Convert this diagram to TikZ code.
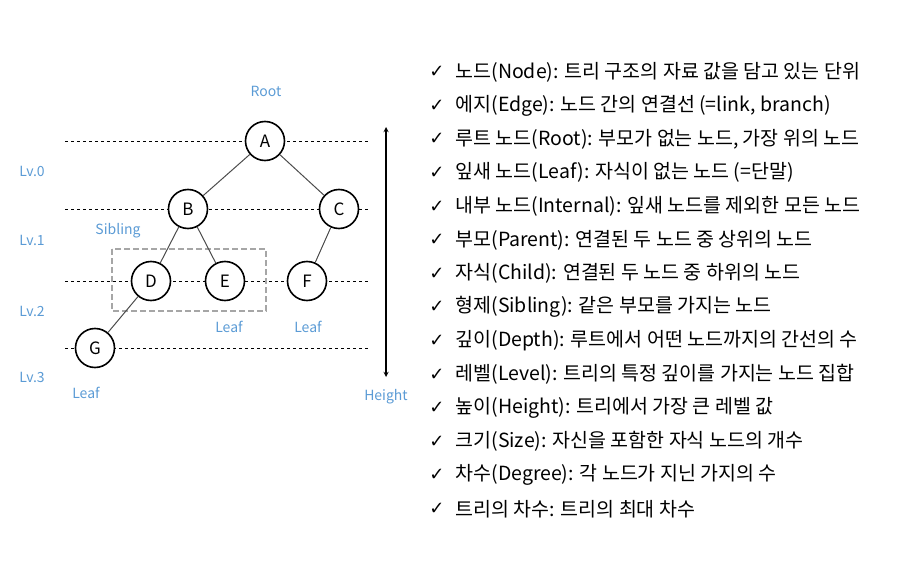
\documentclass[tikz,border=0pt]{standalone}
\usepackage{fontspec}
\setmainfont{Noto Sans CJK KR}
\newfontfamily\chk{DejaVu Sans}
\definecolor{lbl}{HTML}{5B9BD5}
\begin{document}
\begin{tikzpicture}[x=1pt,y=-1pt,
  tn/.style={circle,draw,line width=1.6pt,minimum size=39pt,inner sep=0pt,fill=white,font=\fontsize{17}{17}\selectfont},
  lv/.style={draw,dashed,line width=0.8pt},
  bl/.style={text=lbl,font=\fontsize{14}{14}\selectfont},
  ed/.style={draw=black!70,line width=1pt},
  it/.style={anchor=west,font=\fontsize{19.5}{20}\selectfont}]
\path[use as bounding box] (0,0) rectangle (911,562);
\foreach \y/\n in {141/l0,209/l1,281/l2,348/l3}{
  \coordinate (\n a) at (65,\y); \coordinate (\n b) at (370,\y);
  \draw[lv] (\n a) -- (\n b);}
\draw[draw=black!35,line width=1.3pt,dash pattern=on 6pt off 3pt] (112,249) rectangle (266,311);
\node[tn] (A) at (265,141) {A};
\node[tn] (B) at (188,209) {B};
\node[tn] (C) at (339,209) {C};
\node[tn] (D) at (151,281) {D};
\node[tn] (E) at (225,281) {E};
\node[tn] (F) at (307,281) {F};
\node[tn] (G) at (95,348) {G};
\draw[ed] (A)--(B) (A)--(C) (B)--(D) (B)--(E) (C)--(F) (D)--(G);
\coordinate (h1) at (386,127); \coordinate (h2) at (386,377);
\draw[line width=1.3pt,<->,>=stealth] (h1)--(h2);
\node[bl] (root) at (266,91) {Root};
\node[bl] (lv0) at (32,171) {Lv.0};
\node[bl] (lv1) at (32,240) {Lv.1};
\node[bl] (lv2) at (32,311) {Lv.2};
\node[bl] (lv3) at (32,377) {Lv.3};
\node[bl] (sib) at (118,231) {Sibling};
\node[bl] (le) at (229,327) {Leaf};
\node[bl] (lf) at (308,327) {Leaf};
\node[bl] (lg) at (86,393) {Leaf};
\node[bl] (ht) at (386,397) {Height};
\foreach \i/\t in {0/{노드(Node): 트리 구조의 자료 값을 담고 있는 단위},
1/{에지(Edge): 노드 간의 연결선 (=link, branch)},
2/{루트 노드(Root): 부모가 없는 노드, 가장 위의 노드},
3/{잎새 노드(Leaf): 자식이 없는 노드 (=단말)},
4/{내부 노드(Internal): 잎새 노드를 제외한 모든 노드},
5/{부모(Parent): 연결된 두 노드 중 상위의 노드},
6/{자식(Child): 연결된 두 노드 중 하위의 노드},
7/{형제(Sibling): 같은 부모를 가지는 노드},
8/{깊이(Depth): 루트에서 어떤 노드까지의 간선의 수},
9/{레벨(Level): 트리의 특정 깊이를 가지는 노드 집합},
10/{높이(Height): 트리에서 가장 큰 레벨 값},
11/{크기(Size): 자신을 포함한 자식 노드의 개수},
12/{차수(Degree): 각 노드가 지닌 가지의 수},
13/{트리의 차수: 트리의 최대 차수}}{
  \node[font=\chk\fontsize{18}{18}\selectfont] (c\i) at (437,{72+33.6*\i}) {✓};
  \node[it] (t\i) at (452,{72+33.6*\i}) {\t};}
\end{tikzpicture}
\end{document}
